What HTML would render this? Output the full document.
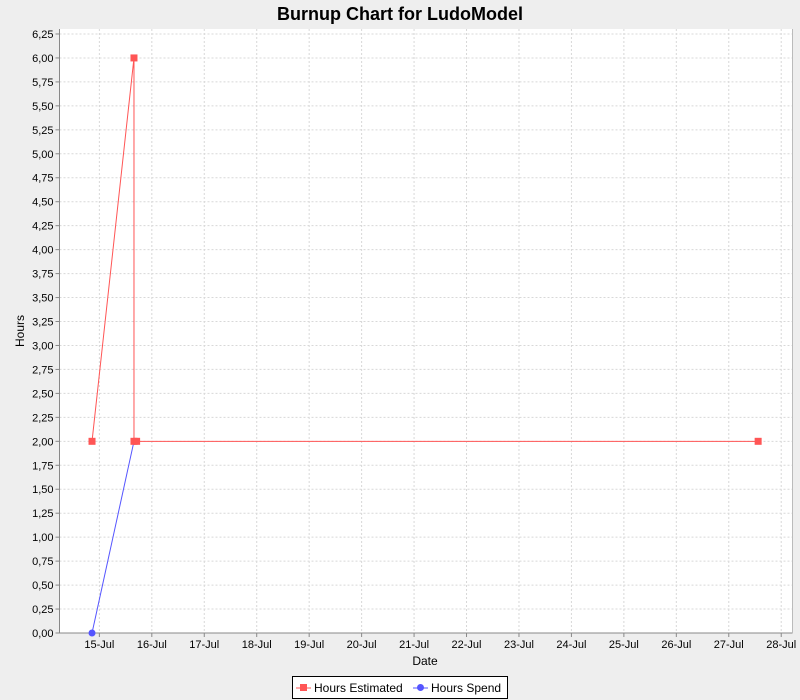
<!DOCTYPE html>
<html><head><meta charset="utf-8"><style>
body{margin:0;background:#eeeeee;}
svg{display:block;font-family:"Liberation Sans",sans-serif;}
</style></head><body>
<svg id="chart" width="800" height="700">
<rect width="800" height="700" fill="#eeeeee"/>
<text x="400" y="20" text-anchor="middle" font-size="18" font-weight="bold" fill="#000">Burnup Chart for LudoModel</text>
<rect x="59.5" y="29" width="733" height="604" fill="#fff"/>
<g id="grid"></g>
<g id="axes"></g>
<g id="series"></g>
<text x="425" y="665" text-anchor="middle" font-size="12">Date</text>
<text transform="translate(24,331) rotate(-90)" text-anchor="middle" font-size="12">Hours</text>
<g>
<rect x="292.5" y="676.5" width="215" height="22" fill="#fff" stroke="#000"/>
<g>
<line x1="296" y1="688" x2="311" y2="688" stroke="#ff5555"/><rect x="300" y="684" width="7" height="7" fill="#ff5555"/>
<text x="314" y="692" font-size="12">Hours Estimated</text></g>
<g>
<line x1="413" y1="688" x2="428" y2="688" stroke="#5555ff"/><circle cx="420.5" cy="687.5" r="3.5" fill="#5555ff"/>
<text x="431" y="692" font-size="12">Hours Spend</text></g>
</g>
</svg>
<script>
const yTicks=[0,0.25,0.5,0.75,1,1.25,1.5,1.75,2,2.25,2.5,2.75,3,3.25,3.5,3.75,4,4.25,4.5,4.75,5,5.25,5.5,5.75,6,6.25];
const xTickDays=[15,16,17,18,19,20,21,22,23,24,25,26,27,28];
const estDays=[14.86,15.66,15.66,15.71,27.56];
const estHours=[2,6,2,2,2];
const spendDays=[14.86,15.66];
const spendHours=[0,2];
const L=59.5,R=792.5,T=29,B=633;
const yMin=0,yMax=6.302;
const dMin=14.240,dMax=28.215;
const ys=v=>B-(v-yMin)/(yMax-yMin)*(B-T);
const xs=d=>L+(d-dMin)/(dMax-dMin)*(R-L);
const NS="http://www.w3.org/2000/svg";
function mk(tag,attrs,parent){const e=document.createElementNS(NS,tag);for(const k in attrs)e.setAttribute(k,attrs[k]);parent.appendChild(e);return e;}
const grid=document.getElementById('grid'),axes=document.getElementById('axes'),ser=document.getElementById('series');
yTicks.forEach(v=>{const y=ys(v);
 const g=mk('line',{x1:L,x2:R,y1:y,y2:y,stroke:'#d8d8d8','stroke-dasharray':'2,2'},grid);
 
 
 mk('line',{x1:L-4,x2:L,y1:y,y2:y,stroke:'#888'},axes);
 const t=mk('text',{x:L-6,y:y+4,'text-anchor':'end','font-size':'11'},axes);
 t.textContent=v.toFixed(2).replace('.',',');
 
 
});
xTickDays.forEach(d=>{const x=xs(d);
 const g=mk('line',{x1:x,x2:x,y1:T,y2:B,stroke:'#d8d8d8','stroke-dasharray':'2,2'},grid);
 
 
 mk('line',{x1:x,x2:x,y1:B,y2:B+4,stroke:'#888'},axes);
 const t=mk('text',{x:x,y:B+15,'text-anchor':'middle','font-size':'11'},axes);
 t.textContent=d+'-Jul';
 
 
});
mk('line',{x1:L,x2:L,y1:T,y2:B,stroke:'#888'},axes);
mk('line',{x1:L,x2:R,y1:B,y2:B,stroke:'#888'},axes);
mk('line',{x1:R,x2:R,y1:T,y2:B,stroke:'#bbb'},axes);
const sp=mk('polyline',{points:spendDays.map((d,i)=>xs(d)+','+ys(spendHours[i])).join(' '),fill:'none',stroke:'#5555ff'},ser);


spendDays.forEach((d,i)=>{const c=mk('circle',{cx:xs(d),cy:ys(spendHours[i]),r:3.5,fill:'#5555ff'},ser);
 
 });
const es=mk('polyline',{points:estDays.map((d,i)=>xs(d)+','+ys(estHours[i])).join(' '),fill:'none',stroke:'#ff5555'},ser);


estDays.forEach((d,i)=>{const r=mk('rect',{x:xs(d)-3.5,y:ys(estHours[i])-3.5,width:7,height:7,fill:'#ff5555'},ser);
 
 });
</script>
</body></html>
